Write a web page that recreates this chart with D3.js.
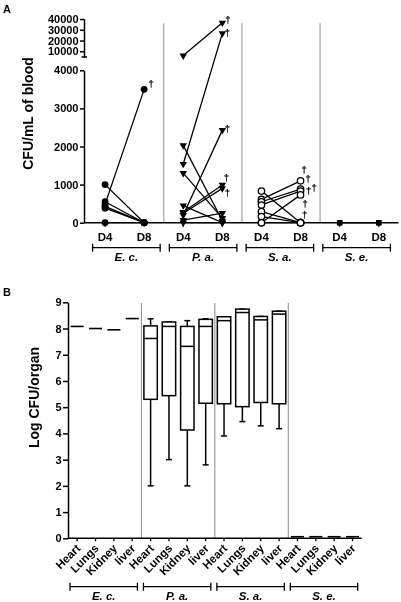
<!DOCTYPE html>
<html><head><meta charset="utf-8">
<script src="https://cdn.jsdelivr.net/npm/d3@7"></script>
<style>
body{margin:0;background:#fff}
svg{display:block;will-change:transform}
text{font-family:"Liberation Sans",Arial,sans-serif;font-weight:bold;fill:#000}
</style>
</head><body>
<svg id="c" width="401" height="602"></svg>
<script>
// ---------- DATA ----------
const groups = ["E. c.", "P. a.", "S. a.", "S. e."];
const days = ["D4", "D8"];
const organs = ["Heart", "Lungs", "Kidney", "liver"];

// Panel A: CFU/mL of blood, paired D4 -> D8 per animal
const ecD4 = [1000, 550, 480, 430, 380, 0];
const ecD8 = [0, 0, 3500, 0, 0, 0];
const ecDied = [0, 0, 1, 0, 0, 0];

const paD4 = [6000, 1540, 2030, 1300, 200, 450, 280, 250, 70, 0];
const paD8 = [36500, 26700, 50, 120, 2430, 0, 990, 900, 250, 0];
const paDied = [1, 1, 0, 0, 1, 0, 1, 1, 0, 0];

const saD4 = [830, 610, 550, 465, 0, 290, 160, 0];
const saD8 = [0, 1100, 880, 830, 730, 0, 0, 0];
const saDied = [0, 1, 1, 1, 1, 1, 1, 0];

const seD4 = [0, 0];
const seD8 = [0, 0];
const seDied = [0, 0];

const lowTicks = [0, 1000, 2000, 3000, 4000];
const highTicks = [10000, 20000, 30000, 40000];

// Panel B: Log CFU/organ  [min, q1, median, q3, max]
const ecOrgan = [8.08, 8.0, 7.95, 8.38];
const paOrgan = [
  [2.0, 5.3, 7.62, 8.1, 8.37],
  [3.0, 5.44, 8.08, 8.25, 8.25],
  [2.0, 4.13, 7.32, 8.08, 8.3],
  [2.8, 5.15, 8.08, 8.35, 8.37]
];
const saOrgan = [
  [3.9, 5.13, 8.3, 8.45, 8.45],
  [4.45, 5.02, 8.61, 8.74, 8.74],
  [4.29, 5.18, 8.33, 8.46, 8.46],
  [4.18, 5.13, 8.55, 8.66, 8.66]
];
const seOrgan = [0.06, 0.06, 0.06, 0.06];
const bTicks = [0, 1, 2, 3, 4, 5, 6, 7, 8, 9];

// dagger label offsets (px, relative to the marker) – style only
const daggerOffsets = {
  "E. c.": [[7, -6]],
  "P. a.": [[5.5, -3], [5, -1], [5, -2], [4, -7], [5, 4]],
  "S. a.": [[3.6, -11.5], [7.6, -10.5], [13.5, -4], [8, -4], [4.6, -19.5], [4, -8.5]],
  "S. e.": []
};

// ---------- DRAW ----------
const svg = d3.select("#c");
const FS = "11px";

// ===== Panel A =====
const seriesA = [
  {g: "E. c.", d4: ecD4, d8: ecD8, died: ecDied, shape: "circle"},
  {g: "P. a.", d4: paD4, d8: paD8, died: paDied, shape: "tri"},
  {g: "S. a.", d4: saD4, d8: saD8, died: saDied, shape: "open"},
  {g: "S. e.", d4: seD4, d8: seD8, died: seDied, shape: "square"}
];
const slots = groups.flatMap(g => days.map(d => g + "|" + d));
const xA = d3.scalePoint().domain(slots).range([85.5, 398.3]).padding(0.5);
const yLow = d3.scaleLinear().domain([0, 4000]).range([222.7, 70.3]);
const yHigh = d3.scaleLinear().domain([4700, 40300]).range([57, 18.7]);
const yA = v => v > 4500 ? yHigh(v) : yLow(v);

svg.append("text").attr("x", 3).attr("y", 12.5).style("font-size", "11px").text("A");

// group separators
for (let i = 1; i < groups.length; i++) {
  const xm = (xA(groups[i - 1] + "|D8") + xA(groups[i] + "|D4")) / 2;
  svg.append("line").attr("x1", xm).attr("x2", xm).attr("y1", 23.3).attr("y2", yLow(0))
    .attr("stroke", "#b4b4b4").attr("stroke-width", 1.5);
}

function styleAxis(g) {
  g.select(".domain").attr("stroke", "#000").attr("stroke-width", 1.5);
  g.selectAll(".tick line").attr("stroke", "#000").attr("stroke-width", 1.5);
  g.selectAll(".tick text").style("font-size", FS).style("font-family", "Liberation Sans, Arial, sans-serif").style("font-weight", "bold");
}
const axL = svg.append("g").attr("transform", "translate(84,0)")
  .call(d3.axisLeft(yLow).tickValues(lowTicks).tickSize(4).tickSizeOuter(0).tickPadding(1.5).tickFormat(d3.format("d")));
styleAxis(axL);
const axH = svg.append("g").attr("transform", "translate(84,0)")
  .call(d3.axisLeft(yHigh).tickValues(highTicks).tickSize(4).tickSizeOuter(0).tickPadding(1.5).tickFormat(d3.format("d")));
styleAxis(axH);
// break marker
svg.append("line").attr("x1", 81.5).attr("x2", 87).attr("y1", yHigh(4700)).attr("y2", yHigh(4700))
  .attr("stroke", "#000").attr("stroke-width", 1.5);

// x axis line
svg.append("line").attr("x1", 84).attr("x2", 398.5).attr("y1", yLow(0)).attr("y2", yLow(0))
  .attr("stroke", "#000").attr("stroke-width", 1.5);
slots.forEach(s => {
  svg.append("line").attr("x1", xA(s)).attr("x2", xA(s)).attr("y1", yLow(0)).attr("y2", yLow(0) + 4)
    .attr("stroke", "#000").attr("stroke-width", 1.5);
  svg.append("text").attr("x", xA(s)).attr("y", 240.5).attr("text-anchor", "middle")
    .style("font-size", "11.5px").text(s.split("|")[1]);
});

// group brackets A
const gbA = d3.scaleBand().domain(groups).range([88, 395]);
groups.forEach(g => {
  const x0 = gbA(g) + 4.6, x1 = gbA(g) + gbA.bandwidth() - 4.6, yb = 247.7;
  const gg = svg.append("g").attr("stroke", "#000").attr("stroke-width", 1.3);
  gg.append("line").attr("x1", x0).attr("x2", x1).attr("y1", yb).attr("y2", yb);
  gg.append("line").attr("x1", x0).attr("x2", x0).attr("y1", yb - 4).attr("y2", yb + 4);
  gg.append("line").attr("x1", x1).attr("x2", x1).attr("y1", yb - 4).attr("y2", yb + 4);
  svg.append("text").attr("x", gbA(g) + gbA.bandwidth() / 2).attr("y", 261).attr("text-anchor", "middle")
    .style("font-size", "11.5px").style("font-style", "italic").text(g);
});

// y title A
svg.append("text").attr("transform", "translate(33,113.5) rotate(-90)").attr("text-anchor", "middle")
  .style("font-size", "14px").text("CFU/mL of blood");

// lines & markers
const triPath = d3.symbol().type(d3.symbolTriangle).size(24)();
seriesA.forEach(s => {
  const xa = xA(s.g + "|D4"), xb = xA(s.g + "|D8");
  const lg = svg.append("g");
  s.d4.forEach((v, i) => {
    lg.append("line").attr("x1", xa).attr("y1", yA(v)).attr("x2", xb).attr("y2", yA(s.d8[i]))
      .attr("stroke", "#000").attr("stroke-width", 1.3);
  });
  const pts = [];
  s.d4.forEach((v, i) => { pts.push([xa, yA(v)]); pts.push([xb, yA(s.d8[i])]); });
  pts.forEach(([px, py]) => {
    if (s.shape === "circle") {
      svg.append("circle").attr("cx", px).attr("cy", py).attr("r", 3.4).attr("fill", "#000");
    } else if (s.shape === "open") {
      svg.append("circle").attr("cx", px).attr("cy", py).attr("r", 3.2).attr("fill", "#fff")
        .attr("stroke", "#000").attr("stroke-width", 1.3);
    } else if (s.shape === "tri") {
      svg.append("path").attr("d", triPath).attr("transform", `translate(${px},${py}) rotate(180)`).attr("fill", "#000");
    } else {
      svg.append("rect").attr("x", px - 2.7).attr("y", py - 2.7).attr("width", 5.4).attr("height", 5.4).attr("fill", "#000");
    }
  });
  // daggers
  let k = 0;
  s.d8.forEach((v, i) => {
    if (!s.died[i]) return;
    const off = daggerOffsets[s.g][k++] || [5, -4];
    svg.append("text").attr("x", xb + off[0]).attr("y", yA(v) + off[1] + 3.5)
      .attr("text-anchor", "middle").style("font-size", "9.5px").style("font-weight", "normal")
      .attr("stroke", "#000").attr("stroke-width", 0.25).text("\u2020");
  });
});

// ===== Panel B =====
const cats = groups.flatMap(g => organs.map(o => g + "|" + o));
const xB = d3.scaleBand().domain(cats).range([68, 361.7]);
const bw = xB.bandwidth();
const cx = c => xB(c) + bw / 2;
const yB = d3.scaleLinear().domain([0, 9]).range([538.3, 302.3]);

svg.append("text").attr("x", 3).attr("y", 296).style("font-size", "11px").text("B");

for (let i = 1; i < groups.length; i++) {
  const xs = xB(groups[i] + "|" + organs[0]);
  svg.append("line").attr("x1", xs).attr("x2", xs).attr("y1", 303).attr("y2", yB(0))
    .attr("stroke", "#8a8a8a").attr("stroke-width", 1);
}

const axB = svg.append("g").attr("transform", "translate(68,0)")
  .call(d3.axisLeft(yB).tickValues(bTicks).tickSize(5).tickSizeOuter(0).tickPadding(1.5));
styleAxis(axB);

svg.append("line").attr("x1", 68).attr("x2", 361.7).attr("y1", yB(0)).attr("y2", yB(0))
  .attr("stroke", "#000").attr("stroke-width", 1.5);
cats.forEach(c => {
  svg.append("line").attr("x1", cx(c)).attr("x2", cx(c)).attr("y1", yB(0)).attr("y2", yB(0) + 3)
    .attr("stroke", "#000").attr("stroke-width", 1.3);
  svg.append("text").attr("transform", `translate(${cx(c) + 4},549) rotate(-45)`).attr("text-anchor", "end")
    .style("font-size", "11.5px").text(c.split("|")[1]);
});

// single-value lines
function medLine(c, v) {
  svg.append("line").attr("x1", cx(c) - 6.5).attr("x2", cx(c) + 6.5).attr("y1", yB(v)).attr("y2", yB(v))
    .attr("stroke", "#000").attr("stroke-width", 1.6);
}
organs.forEach((o, i) => medLine("E. c.|" + o, ecOrgan[i]));
organs.forEach((o, i) => medLine("S. e.|" + o, seOrgan[i]));

function boxPlot(c, d) {
  const [mn, q1, md, q3, mx] = d;
  const x = cx(c), w = 13.4, cap = 3;
  const g = svg.append("g").attr("stroke", "#000").attr("stroke-width", 1.5);
  g.append("line").attr("x1", x).attr("x2", x).attr("y1", yB(mn)).attr("y2", yB(q1));
  g.append("line").attr("x1", x).attr("x2", x).attr("y1", yB(q3)).attr("y2", yB(mx));
  g.append("line").attr("x1", x - cap).attr("x2", x + cap).attr("y1", yB(mn)).attr("y2", yB(mn));
  g.append("line").attr("x1", x - cap).attr("x2", x + cap).attr("y1", yB(mx)).attr("y2", yB(mx));
  g.append("rect").attr("x", x - w / 2).attr("y", yB(q3)).attr("width", w).attr("height", yB(q1) - yB(q3))
    .attr("fill", "#fff");
  g.append("line").attr("x1", x - w / 2).attr("x2", x + w / 2).attr("y1", yB(md)).attr("y2", yB(md));
}
organs.forEach((o, i) => boxPlot("P. a.|" + o, paOrgan[i]));
organs.forEach((o, i) => boxPlot("S. a.|" + o, saOrgan[i]));

// group brackets B
groups.forEach(g => {
  const x0 = xB(g + "|" + organs[0]) + 2, x1 = xB(g + "|" + organs[3]) + bw - 4, yb = 586.7;
  const gg = svg.append("g").attr("stroke", "#000").attr("stroke-width", 1.3);
  gg.append("line").attr("x1", x0).attr("x2", x1).attr("y1", yb).attr("y2", yb);
  gg.append("line").attr("x1", x0).attr("x2", x0).attr("y1", yb - 4).attr("y2", yb + 4);
  gg.append("line").attr("x1", x1).attr("x2", x1).attr("y1", yb - 4).attr("y2", yb + 4);
  svg.append("text").attr("x", (x0 + x1) / 2).attr("y", 600).attr("text-anchor", "middle")
    .style("font-size", "11.5px").style("font-style", "italic").text(g);
});

svg.append("text").attr("transform", "translate(39,397.5) rotate(-90)").attr("text-anchor", "middle")
  .style("font-size", "14px").text("Log CFU/organ");
</script>
</body></html>
